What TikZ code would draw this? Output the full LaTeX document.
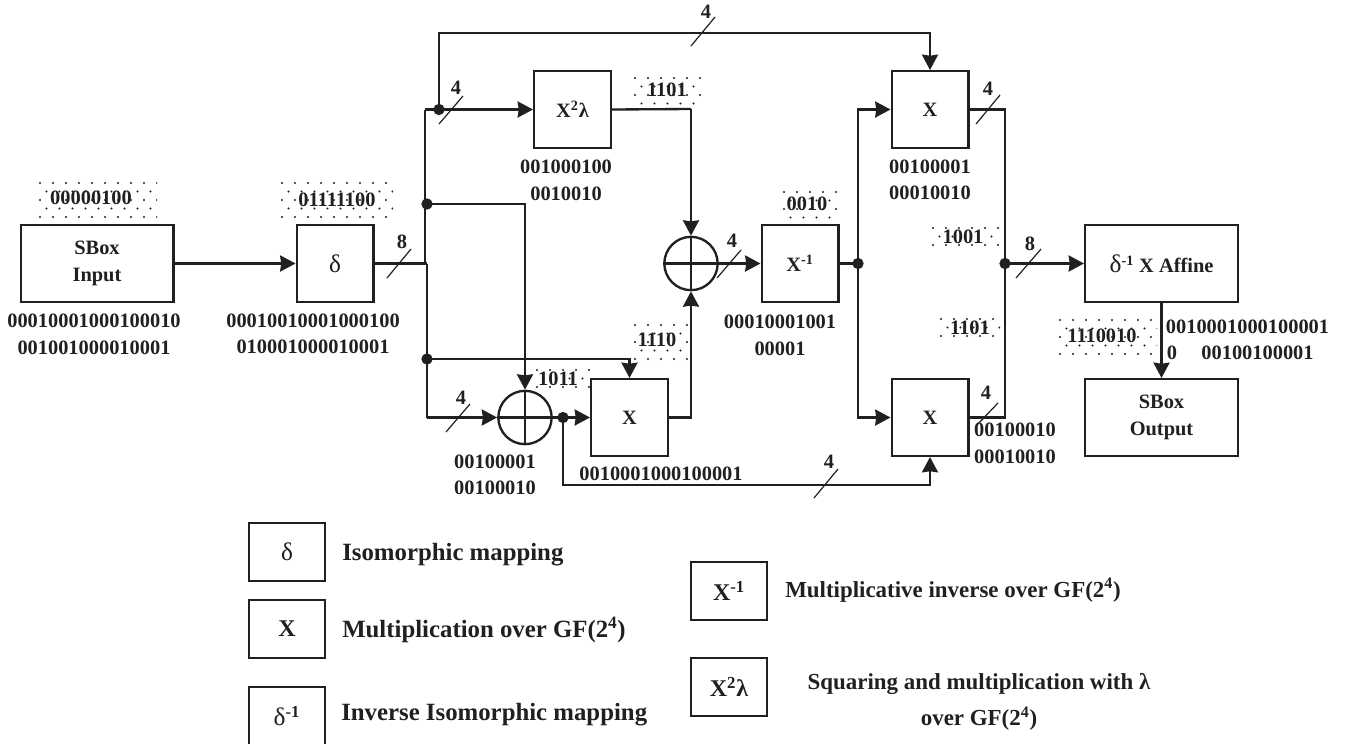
\documentclass[tikz,border=0pt]{standalone}
\usepackage{fontspec}
\setmainfont{Liberation Serif}
\usetikzlibrary{arrows.meta}
\definecolor{ink}{HTML}{231F20}
\tikzset{
  wire/.style={draw=ink,line width=1.75pt},
  arrowed/.style={wire,-{Stealth[length=11.5pt,width=12pt,inset=.8pt]}},
  bx/.style={draw=ink,line width=1.75pt,inner sep=0pt,align=center,text=ink,font=\bfseries\fontsize{15.3}{20}\selectfont},
  sq/.style={bx,minimum width=57.5pt,minimum height=57.5pt},
  wide/.style={bx,minimum width=114.5pt,minimum height=57.5pt},
  leg/.style={bx,minimum width=57pt,minimum height=43.5pt,font=\bfseries\fontsize{18}{20}\selectfont},
  xorc/.style={circle,draw=ink,line width=1.75pt,inner sep=0pt,minimum size=40pt},
  jn/.style={circle,fill=ink,inner sep=0pt,minimum size=8.5pt},
  tick/.style={draw=ink,line width=.9pt},
  lab/.style={inner sep=0pt,align=center,text=ink,font=\bfseries\fontsize{15.3}{19.8}\selectfont},
  num/.style={inner sep=0pt,text=ink,font=\bfseries\fontsize{15.3}{19}\selectfont},
  legt/.style={inner sep=0pt,align=center,text=ink,font=\bfseries\fontsize{18.6}{27}\selectfont},
  legr/.style={inner sep=0pt,align=center,text=ink,font=\bfseries\fontsize{17.2}{27}\selectfont},
}
\newcommand{\dl}{{\normalfont\fontsize{19}{19}\selectfont δ}}
\newcommand{\dotpatch}[4]{%
  \begin{scope}
  \clip (#1,#2) rectangle (#3,#4);
  \foreach \r in {0,...,5}{
    \foreach \c in {0,...,12}{
      \pgfmathsetmacro{\px}{#1+3+\c*13+mod(\r,2)*6.5}
      \pgfmathsetmacro{\py}{#2+3+\r*8.5}
      \fill[ink] (\px,\py) circle (.9pt);
    }
  }
  \end{scope}}
\begin{document}
\begin{tikzpicture}[x=0.75pt,y=-0.75pt]
\useasboundingbox (0,0) rectangle (1346,743);
\clip (0,0) rectangle (1346,743);
\fill[white] (0,0) rectangle (1346,743);
% dotted patches
\dotpatch{37}{180}{157}{218}
\dotpatch{279}{180}{393}{220}
\dotpatch{632}{75}{704}{105}
\dotpatch{781}{189}{837}{221}
\dotpatch{632}{322}{690}{362}
\dotpatch{534}{367}{590}{392}
\dotpatch{930}{225}{1003}{250}
\dotpatch{938}{316}{1000}{336}
\dotpatch{1057}{317}{1157}{355}
% boxes
\node[wide] (in) at (97,263.5) {SBox\\Input};
\node[sq] (delta) at (335,263.5) {\dl};
\node[sq] (xl) at (572.5,109.5) {X\textsuperscript{2}λ};
\node[sq] (xi) at (800,263.5) {X\textsuperscript{-1}};
\node[sq] (xt) at (930,109.5) {X};
\node[sq] (xb) at (930,417.5) {X};
\node[sq] (xm) at (629.5,417.5) {X};
\node[wide] (aff) at (1161.5,263.5) {\dl\textsuperscript{-1} X Affine};
\node[wide] (out) at (1161.5,417.5) {SBox\\Output};
\node[xorc] (c1) at (691,263.5) {};
\node[xorc] (c2) at (525,417.5) {};
\draw[wire] (c1.north)--(c1.south) (c1.west)--(c1.east);
\draw[wire] (c2.north)--(c2.south) (c2.west)--(c2.east);
% junctions
\node[jn] (j1) at (439,109.5) {};
\node[jn] (j2) at (427,204) {};
\node[jn] (j3) at (427,359) {};
\node[jn] (j4) at (563,417.5) {};
\node[jn] (j5) at (858,263.5) {};
\node[jn] (j6) at (1005,263.5) {};
% corner points
\coordinate (t0) at (425,263.5);
\coordinate (t1) at (425,109.5);
\coordinate (b0) at (427,263.5);
\coordinate (b1) at (427,417.5);
% connectors
\draw[arrowed] (in.east) -- (delta.west);
\draw[wire] (delta.east) -- (b0);
\draw[wire] (t0) -- (t1);
\draw[arrowed] (t1) -- (xl.west);
\draw[wire] (b0) -- (b1);
\draw[arrowed] (b1) -- (c2.west);
\draw[arrowed] (j1.center) |- (600,33) -| (xt.north);
\draw[arrowed] (j2.center) -| (c2.north);
\draw[arrowed] (j3.center) -| (xm.north);
\draw[wire] (xl.east) -- (691,109);
\draw[arrowed] (691,109) -- (c1.north);
\draw[arrowed] (xm.east) -| (c1.south);
\draw[arrowed] (c1.east) -- (xi.west);
\draw[arrowed] (c2.east) -- (xm.west);
\draw[arrowed] (j4.center) |- (700,485) -| (xb.south);
\draw[wire] (xi.east) -- (j5.center);
\draw[arrowed] (j5.center) |- (xt.west);
\draw[arrowed] (j5.center) |- (xb.west);
\draw[wire] (xt.east) -| (j6.center);
\draw[wire] (xb.east) -| (j6.center);
\draw[arrowed] (j6.center) -- (aff.west);
\draw[arrowed] (aff.south) -- (out.north);
% ticks
\draw[tick] (387,278)--(411,249);
\draw[tick] (439,124)--(463,96);
\draw[tick] (691,46)--(715,17);
\draw[tick] (717,278)--(741,250);
\draw[tick] (446,432)--(470,404);
\draw[tick] (814,498)--(838,469);
\draw[tick] (976,124)--(1000,95);
\draw[tick] (976,426)--(998,403);
\draw[tick] (1016,278)--(1041,249);
% width labels
\node[num] (w1) at (402,242) {8};
\node[num] (w2) at (456,88) {4};
\node[num] (w3) at (706,12) {4};
\node[num] (w4) at (732,241) {4};
\node[num] (w5) at (461,398) {4};
\node[num] (w6) at (829,462) {4};
\node[num] (w7) at (988,89) {4};
\node[num] (w8) at (986,393) {4};
\node[num] (w9) at (1030,244) {8};
% patch texts
\node[num] (p1) at (91,198) {00000100};
\node[num] (p2) at (337,200) {01111100};
\node[num] (p3) at (667,90) {1101};
\node[num] (p4) at (807,204) {0010};
\node[num] (p5) at (657,340) {1110};
\node[num] (p6) at (558,379) {1011};
\node[num] (p7) at (963,237) {1001};
\node[num] (p8) at (970,328) {1101};
\node[num] (p9) at (1102,336) {1110010};
% bit labels
\node[lab] (l1) at (94,334.5) {00010001000100010\\001001000010001};
\node[lab] (l2) at (313,334) {00010010001000100\\010001000010001};
\node[lab] (l3) at (566,180.5) {001000100\\0010010};
\node[lab] (l4) at (780,335.5) {00010001001\\00001};
\node[lab] (l5) at (930,180) {00100001\\00010010};
\node[lab] (l6) at (495,475) {00100001\\00100010};
\node[num] (l7) at (661,474) {0010001000100001};
\node[lab] (l8) at (1015,443.5) {00100010\\00010010};
\node[num] (l9) at (1247.5,327) {0010001000100001};
\node[num] (l10) at (1172,353) {0};
\node[num] (l11) at (1257.5,353) {00100100001};
% legend
\node[leg] (a1) at (287,552) {\dl};
\node[leg] (a2) at (287,629) {X};
\node[leg] (a3) at (287,716) {\dl\textsuperscript{-1}};
\node[leg] (a4) at (729,591) {X\textsuperscript{-1}};
\node[leg] (a5) at (729,687) {X\textsuperscript{2}λ};
\node[legt,anchor=west] (d1) at (342,555) {Isomorphic mapping};
\node[legt,anchor=west] (d2) at (342,630) {Multiplication over GF(2\textsuperscript{4})};
\node[legt,anchor=west] (d3) at (341,715) {Inverse Isomorphic mapping};
\node[legr,anchor=west] (d4) at (785,590) {Multiplicative inverse over GF(2\textsuperscript{4})};
\node[legr] (d5) at (979,702) {Squaring and multiplication with λ\\over GF(2\textsuperscript{4})};
\end{tikzpicture}
\end{document}
